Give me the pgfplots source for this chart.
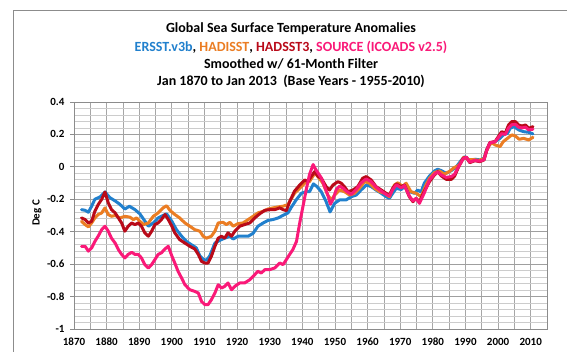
\documentclass[border=0pt]{standalone}
\usepackage{fontspec}
\setmainfont{Carlito}
\usepackage{pgfplots}
\pgfplotsset{compat=1.18}
\usepackage{pgfplotstable}

\definecolor{ersst}{RGB}{33,128,205}
\definecolor{hadisst}{RGB}{235,125,35}
\definecolor{hadsst}{RGB}{185,10,25}
\definecolor{source}{RGB}{250,25,120}
\definecolor{framegray}{RGB}{140,140,140}

% ERSST.v3b, 61-month smoothed anomalies (deg C)
\pgfplotstableread{
year val
1872.3 -0.264
1873.4 -0.268
1874.4 -0.28
1875.4 -0.243
1876.4 -0.20
1878.0 -0.185
1879.5 -0.155
1881.0 -0.19
1882.6 -0.21
1884.0 -0.23
1885.6 -0.26
1887.0 -0.243
1888.7 -0.264
1890.2 -0.29
1891.4 -0.325
1892.8 -0.366
1894.3 -0.346
1895.8 -0.315
1897.3 -0.30
1898.4 -0.29
1900.0 -0.336
1901.4 -0.387
1903.0 -0.428
1904.5 -0.46
1906.0 -0.48
1907.5 -0.50
1908.6 -0.55
1909.6 -0.57
1910.6 -0.576
1911.6 -0.55
1913.2 -0.47
1914.7 -0.453
1916.2 -0.44
1917.8 -0.428
1918.8 -0.445
1920.3 -0.428
1921.8 -0.428
1923.4 -0.428
1924.9 -0.41
1926.4 -0.366
1928.0 -0.346
1929.5 -0.33
1931.0 -0.325
1932.6 -0.315
1934.0 -0.30
1935.6 -0.284
1936.6 -0.25
1938.1 -0.204
1939.7 -0.163
1941.2 -0.153
1942.2 -0.153
1943.4 -0.105
1944.5 -0.122
1945.8 -0.153
1947.3 -0.215
1948.5 -0.278
1949.9 -0.225
1951.4 -0.204
1953.4 -0.204
1955.0 -0.184
1956.5 -0.174
1958.0 -0.143
1959.6 -0.112
1961.1 -0.122
1962.6 -0.143
1964.2 -0.163
1965.7 -0.184
1966.7 -0.194
1967.7 -0.163
1968.8 -0.132
1970.3 -0.14
1971.3 -0.122
1972.8 -0.153
1974.4 -0.163
1975.4 -0.143
1976.4 -0.155
1977.4 -0.10
1979.0 -0.056
1980.5 -0.025
1981.5 -0.015
1982.6 -0.023
1984.1 -0.04
1985.7 -0.023
1987.2 0.0
1988.8 0.043
1989.8 0.063
1991.3 0.038
1992.9 0.047
1994.4 0.043
1995.7 0.053
1996.5 0.104
1997.5 0.145
1999.1 0.156
2000.6 0.176
2001.6 0.197
2002.9 0.207
2003.7 0.238
2004.9 0.248
2006.3 0.228
2007.8 0.217
2009.4 0.213
2010.7 0.203
}\ersst

% HADISST
\pgfplotstableread{
year val
1872.3 -0.336
1873.4 -0.356
1874.4 -0.37
1875.4 -0.346
1876.4 -0.315
1877.4 -0.294
1878.5 -0.284
1879.5 -0.253
1880.5 -0.294
1881.5 -0.305
1882.6 -0.30
1884.1 -0.315
1885.6 -0.305
1887.1 -0.31
1888.2 -0.325
1889.2 -0.315
1890.2 -0.336
1891.4 -0.356
1892.8 -0.346
1894.3 -0.305
1895.8 -0.284
1897.3 -0.253
1898.4 -0.24
1899.4 -0.268
1900.9 -0.294
1902.4 -0.315
1904.0 -0.346
1905.5 -0.366
1907.0 -0.387
1908.6 -0.397
1909.6 -0.428
1910.6 -0.44
1912.1 -0.428
1913.2 -0.397
1914.2 -0.346
1915.7 -0.342
1916.7 -0.356
1917.8 -0.342
1918.8 -0.366
1920.3 -0.35
1921.8 -0.346
1923.4 -0.325
1924.9 -0.305
1926.4 -0.284
1928.0 -0.274
1929.5 -0.26
1931.0 -0.253
1932.6 -0.247
1934.0 -0.243
1935.6 -0.233
1936.1 -0.215
1937.6 -0.163
1939.2 -0.132
1940.7 -0.101
1942.2 -0.091
1943.8 -0.04
1944.8 -0.06
1946.3 -0.101
1947.8 -0.174
1948.9 -0.204
1949.9 -0.174
1951.4 -0.143
1952.9 -0.153
1954.5 -0.174
1956.0 -0.163
1957.5 -0.132
1959.1 -0.091
1960.6 -0.101
1962.1 -0.132
1963.7 -0.153
1965.2 -0.163
1966.7 -0.184
1968.2 -0.112
1969.3 -0.098
1970.8 -0.122
1971.8 -0.101
1973.3 -0.153
1974.9 -0.163
1976.4 -0.184
1977.9 -0.112
1979.0 -0.07
1980.5 -0.035
1982.0 -0.025
1983.5 -0.045
1985.0 -0.03
1986.5 -0.005
1988.0 0.01
1989.5 0.06
1991.0 0.045
1992.5 0.045
1994.0 0.04
1995.7 0.05
1996.5 0.10
1997.5 0.14
1998.5 0.145
1999.1 0.135
2000.6 0.125
2001.6 0.156
2002.9 0.176
2004.2 0.197
2005.3 0.19
2006.5 0.17
2007.8 0.176
2009.4 0.166
2010.7 0.182
}\hadisst

% HADSST3
\pgfplotstableread{
year val
1872.3 -0.315
1873.4 -0.325
1874.4 -0.346
1875.4 -0.336
1876.4 -0.274
1877.4 -0.233
1878.5 -0.20
1879.5 -0.155
1880.5 -0.222
1881.5 -0.264
1882.6 -0.284
1883.6 -0.315
1884.6 -0.346
1885.6 -0.397
1886.6 -0.366
1887.7 -0.346
1888.7 -0.356
1889.7 -0.346
1890.7 -0.366
1891.7 -0.407
1892.8 -0.428
1893.8 -0.397
1894.8 -0.356
1895.8 -0.346
1896.8 -0.325
1897.9 -0.294
1898.9 -0.325
1900.0 -0.366
1900.9 -0.407
1902.4 -0.449
1904.0 -0.47
1905.5 -0.49
1907.0 -0.506
1908.1 -0.54
1909.1 -0.583
1910.1 -0.593
1911.1 -0.593
1912.1 -0.552
1913.2 -0.49
1914.2 -0.44
1915.2 -0.428
1916.2 -0.44
1917.2 -0.407
1918.3 -0.428
1919.3 -0.397
1920.8 -0.366
1922.3 -0.356
1923.9 -0.346
1925.4 -0.315
1926.9 -0.29
1928.5 -0.268
1930.0 -0.264
1931.5 -0.264
1933.1 -0.253
1934.1 -0.264
1935.1 -0.27
1936.1 -0.215
1937.6 -0.15
1939.2 -0.112
1940.7 -0.081
1941.7 -0.091
1942.7 -0.06
1943.8 -0.029
1944.8 -0.06
1945.8 -0.07
1947.3 -0.122
1948.3 -0.143
1949.4 -0.112
1950.9 -0.091
1951.9 -0.101
1952.9 -0.122
1954.0 -0.153
1955.5 -0.143
1957.0 -0.122
1958.5 -0.07
1959.6 -0.06
1961.1 -0.081
1962.6 -0.122
1964.2 -0.143
1965.7 -0.163
1966.7 -0.173
1967.7 -0.132
1968.8 -0.105
1970.3 -0.122
1971.3 -0.112
1972.8 -0.184
1973.9 -0.215
1974.9 -0.194
1975.9 -0.215
1977.4 -0.15
1979.0 -0.09
1980.5 -0.05
1981.5 -0.03
1982.6 -0.056
1984.1 -0.077
1985.7 -0.077
1986.7 -0.056
1987.7 -0.009
1989.3 0.053
1990.3 0.059
1991.3 0.026
1992.9 0.038
1994.4 0.032
1995.7 0.043
1996.5 0.104
1997.5 0.15
1999.1 0.156
2000.1 0.187
2001.1 0.217
2002.2 0.207
2003.2 0.258
2004.2 0.279
2005.3 0.279
2006.3 0.258
2007.3 0.252
2008.4 0.258
2009.4 0.238
2010.7 0.248
}\hadsst

% SOURCE (ICOADS v2.5)
\pgfplotstableread{
year val
1872.3 -0.49
1873.4 -0.49
1874.4 -0.52
1875.4 -0.50
1876.4 -0.46
1877.4 -0.428
1878.5 -0.387
1879.5 -0.366
1880.5 -0.397
1881.5 -0.44
1882.6 -0.47
1883.6 -0.51
1884.6 -0.54
1885.6 -0.562
1886.6 -0.54
1887.7 -0.527
1888.7 -0.54
1889.7 -0.54
1890.7 -0.562
1891.7 -0.603
1892.8 -0.624
1893.8 -0.603
1894.8 -0.572
1895.8 -0.54
1896.8 -0.53
1897.9 -0.506
1898.9 -0.49
1900.0 -0.55
1900.9 -0.593
1901.9 -0.644
1903.0 -0.686
1904.0 -0.727
1905.5 -0.758
1907.0 -0.768
1908.1 -0.778
1909.1 -0.83
1910.1 -0.85
1911.1 -0.85
1912.1 -0.82
1913.2 -0.778
1914.2 -0.727
1915.2 -0.747
1916.2 -0.737
1917.2 -0.716
1918.3 -0.758
1919.3 -0.737
1920.8 -0.716
1922.3 -0.716
1923.9 -0.696
1925.4 -0.665
1926.4 -0.644
1927.4 -0.655
1928.5 -0.634
1930.0 -0.634
1931.5 -0.624
1933.1 -0.593
1934.1 -0.603
1935.1 -0.572
1936.1 -0.54
1937.1 -0.51
1938.2 -0.46
1939.2 -0.346
1940.2 -0.243
1941.2 -0.14
1942.2 -0.047
1943.3 0.014
1944.1 -0.016
1944.8 -0.037
1945.8 -0.068
1946.8 -0.12
1947.9 -0.18
1948.6 -0.23
1949.4 -0.20
1950.4 -0.14
1951.4 -0.12
1952.4 -0.13
1953.5 -0.15
1955.0 -0.17
1956.5 -0.14
1958.0 -0.10
1959.5 -0.075
1961.0 -0.09
1962.6 -0.125
1964.2 -0.15
1965.7 -0.17
1966.7 -0.18
1967.7 -0.14
1968.8 -0.11
1970.3 -0.13
1971.3 -0.115
1972.8 -0.18
1973.9 -0.21
1974.9 -0.195
1975.9 -0.225
1977.4 -0.16
1979.0 -0.08
1980.5 -0.045
1981.5 -0.03
1982.6 -0.05
1984.1 -0.065
1985.7 -0.06
1986.7 -0.045
1987.7 -0.005
1989.3 0.05
1990.3 0.06
1991.3 0.03
1992.9 0.04
1994.4 0.035
1995.7 0.045
1996.5 0.10
1997.5 0.148
1999.1 0.155
2000.1 0.18
2001.1 0.205
2002.2 0.20
2003.2 0.24
2004.2 0.26
2005.3 0.262
2006.3 0.245
2007.3 0.24
2008.4 0.245
2009.4 0.228
2010.7 0.232
}\source

\begin{document}
\begin{tikzpicture}
\useasboundingbox (0pt,0pt) rectangle (567pt,352pt);
\fill[white] (0pt,0pt) rectangle (567pt,352pt);
% outer chart frame
\draw[framegray, line width=1pt] (13pt,-20pt) -- (13pt,341pt) -- (600pt,341pt);

\begin{axis}[
  at={(74pt,23pt)}, anchor=south west,
  scale only axis, width=473pt, height=227pt,
  xmin=1870, xmax=2015, ymin=-1, ymax=0.4,
  xtick={1870,1880,1890,1900,1910,1920,1930,1940,1950,1960,1970,1980,1990,2000,2010},
  xticklabels={1870,1880,1890,1900,1910,1920,1930,1940,1950,1960,1970,1980,1990,2000,2010},
  ytick={-1,-0.8,-0.6,-0.4,-0.2,0,0.2,0.4},
  yticklabels={-1,-0.8,-0.6,-0.4,-0.2,0,0.2,0.4},
  minor x tick num=1, minor y tick num=4,
  grid=both,
  major x grid style={draw=gray!70, line width=0.8pt},
  minor x grid style={draw=gray!70, line width=0.8pt},
  major y grid style={draw=gray!75, line width=0.8pt},
  minor y grid style={draw=gray!40, line width=0.8pt},
  axis line style={draw=framegray, line width=0.8pt},
  tick align=outside, ytick pos=left, xtick pos=bottom,
  major tick length=4pt, minor tick length=0pt,
  xtick style={draw=none},
  ytick style={draw=framegray, line width=0.8pt},
  tick label style={font=\bfseries\fontsize{11}{13}\selectfont, text=black},
  xticklabel style={yshift=-4pt, inner sep=1pt},
  yticklabel style={xshift=-2pt},
  every axis plot/.append style={line width=3pt, line join=round, line cap=round},
]
\addplot[ersst]   table[x=year, y=val] {\ersst};
\addplot[hadisst] table[x=year, y=val] {\hadisst};
\addplot[hadsst]  table[x=year, y=val] {\hadsst};
\addplot[source]  table[x=year, y=val] {\source};
\end{axis}

\node[rotate=90, font=\bfseries\fontsize{11}{13}\selectfont] at (37pt,139pt) {Deg C};

\begin{scope}[every node/.style={font=\bfseries\fontsize{14}{16}\selectfont}]
\node at (291pt,323pt) {Global Sea Surface Temperature Anomalies};
\node at (291pt,305pt) {\textcolor{ersst}{ERSST.v3b}, \textcolor{hadisst}{HADISST}, \textcolor{hadsst}{HADSST3}, \textcolor{source}{SOURCE (ICOADS v2.5)}};
\node at (291pt,288pt) {Smoothed w/ 61-Month Filter};
\node at (291pt,271pt) {Jan 1870 to Jan 2013~ (Base Years - 1955-2010)};
\end{scope}
\end{tikzpicture}
\end{document}
